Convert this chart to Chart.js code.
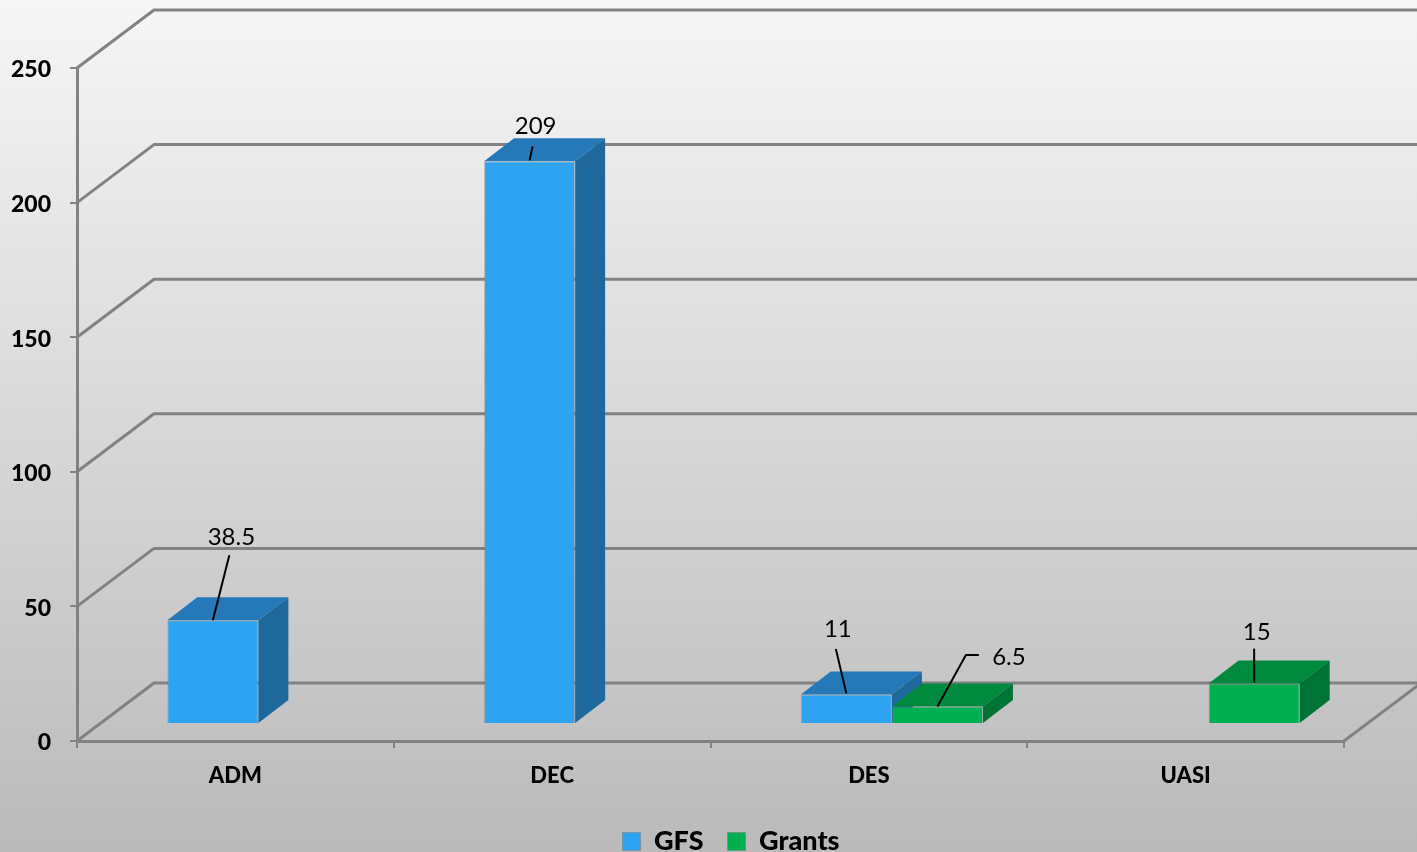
<!DOCTYPE html>
<html>
<head>
<meta charset="utf-8">
<title>GFS and Grants</title>
<script src="https://cdn.jsdelivr.net/npm/chart.js@4/dist/chart.umd.min.js"></script>
<style>
    html, body { margin: 0; padding: 0; overflow: hidden; background: #bbb; }
    canvas { display: block; }
</style>
</head>
<body>
<canvas id="chart" width="1417" height="852"></canvas>
<script>
const categories = ['ADM', 'DEC', 'DES', 'UASI'];
const gfsValues = [38.5, 209, 11, null];
const grantsValues = [null, null, 6.5, 15];
const yTicks = [0, 50, 100, 150, 200, 250];

// the look of the 3d box, in pixels
const wallDepth = { x: 77, y: -58 };
const barShift = { x: 23, y: -17 };
const barDepth = { x: 30, y: -23 };
const gridColor = '#828282';

// leader lines from the bar top to its label: [dx, dy] from the top centre of the front face
const gfsLeaders = [
    { label: [18.5, -83], line: [[16.5, -65], [0, 0]] },
    { label: [6, -35], line: [[3, -15], [0, -1]] },
    { label: [-8.5, -65], line: [[-10.5, -45.5], [0, -1]] },
    null
];
const grantsLeaders = [
    null,
    null,
    { label: [71.5, -49], line: [[41.5, -51.5], [28.5, -51.5], [0, 0]] },
    { label: [2.5, -51.5], line: [[0, -35], [0, -1]] }
];

const seriesStyle = [
    { front: '#2ea3f2', top: '#2579b8', side: '#1f689c', leaders: gfsLeaders },
    { front: '#00b050', top: '#008a3e', side: '#007435', leaders: grantsLeaders }
];

const polygon = (ctx, points, color) => {
    ctx.beginPath();
    points.forEach(([x, y], i) => (i ? ctx.lineTo(x, y) : ctx.moveTo(x, y)));
    ctx.closePath();
    ctx.fillStyle = color;
    ctx.fill();
};

const drawBoxFaces = (chart, index) => {
    const { ctx } = chart;
    const style = seriesStyle[index];
    chart.getDatasetMeta(index).data.forEach((bar, i) => {
        if (chart.data.datasets[index].data[i] == null) return;
        const l = bar.x - bar.width / 2;
        const r = bar.x + bar.width / 2;
        polygon(ctx, [[l, bar.y], [l + barDepth.x, bar.y + barDepth.y], [r + barDepth.x, bar.y + barDepth.y], [r, bar.y]], style.top);
        polygon(ctx, [[r, bar.y], [r + barDepth.x, bar.y + barDepth.y], [r + barDepth.x, bar.base + barDepth.y], [r, bar.base]], style.side);
    });
};

const chart3d = {
    id: 'chart3d',
    beforeDraw(chart) {
        const { ctx, width, height } = chart;
        const bg = ctx.createLinearGradient(0, 0, 0, height);
        bg.addColorStop(0, '#f6f6f6');
        bg.addColorStop(1, '#bababa');
        ctx.fillStyle = bg;
        ctx.fillRect(0, 0, width, height);
    },
    afterLayout(chart) {
        // the legend sits off centre, under the right part of the plot
        const legend = chart.legend;
        legend.left += 59;
        legend.right += 59;
        legend.top += 13;
        legend.bottom += 13;
    },
    beforeDatasetsDraw(chart) {
        const { ctx, scales, chartArea } = chart;
        const { left, right, bottom } = chartArea;
        ctx.save();
        ctx.strokeStyle = gridColor;
        ctx.lineWidth = 3;
        ctx.lineJoin = 'round';
        yTicks.forEach(v => {
            const y = scales.y.getPixelForValue(v);
            ctx.beginPath();
            ctx.moveTo(left, y);
            ctx.lineTo(left + wallDepth.x, y + wallDepth.y);
            ctx.lineTo(right + wallDepth.x, y + wallDepth.y);
            ctx.stroke();
        });
        ctx.beginPath();
        ctx.moveTo(right, bottom);
        ctx.lineTo(right + wallDepth.x, bottom + wallDepth.y);
        ctx.stroke();
        ctx.restore();
    },
    // chart.js paints the last dataset first, but Grants has to lie over the side of GFS
    beforeDatasetDraw(chart, args) {
        if (args.index === 1) return false;
        chart.ctx.save();
        chart.ctx.translate(barShift.x, barShift.y);
        drawBoxFaces(chart, 0);
    },
    afterDatasetDraw(chart) {
        const { ctx } = chart;
        drawBoxFaces(chart, 1);
        chart.getDatasetMeta(1).data.forEach((bar, i) => {
            if (grantsValues[i] != null) bar.draw(ctx);
        });
        ctx.restore();
    },
    afterDatasetsDraw(chart) {
        const { ctx } = chart;
        ctx.save();
        ctx.strokeStyle = '#000';
        ctx.fillStyle = '#000';
        ctx.lineWidth = 2;
        ctx.font = '24px Lato';
        ctx.textAlign = 'center';
        ctx.textBaseline = 'middle';
        chart.data.datasets.forEach((ds, d) => {
            chart.getDatasetMeta(d).data.forEach((bar, i) => {
                const leader = seriesStyle[d].leaders[i];
                if (ds.data[i] == null || !leader) return;
                const x = bar.x + barShift.x;
                const y = bar.y + barShift.y;
                ctx.beginPath();
                leader.line.forEach(([dx, dy], n) => (n ? ctx.lineTo(x + dx, y + dy) : ctx.moveTo(x + dx, y + dy)));
                ctx.stroke();
                ctx.fillText(String(ds.data[i]), x + leader.label[0], y + leader.label[1]);
            });
        });
        ctx.restore();
    }
};

new Chart(document.getElementById('chart'), {
    type: 'bar',
    data: {
        labels: categories,
        datasets: [
            { label: 'GFS', data: gfsValues, backgroundColor: seriesStyle[0].front, borderColor: 'rgba(120,120,120,0.45)', borderWidth: 1, clip: false },
            { label: 'Grants', data: grantsValues, backgroundColor: seriesStyle[1].front, borderColor: 'rgba(120,120,120,0.45)', borderWidth: 1, clip: false }
        ]
    },
    options: {
        responsive: false,
        devicePixelRatio: 1,
        animation: false,
        datasets: { bar: { categoryPercentage: 0.575, barPercentage: 1 } },
        layout: { padding: { top: 68, right: 73, left: 0, bottom: 0 } },
        plugins: {
            tooltip: { enabled: false },
            legend: {
                position: 'bottom',
                labels: {
                    color: '#000',
                    font: { family: 'Lato', size: 27, weight: '900' },
                    boxWidth: 18,
                    boxHeight: 18,
                    padding: 24
                }
            }
        },
        scales: {
            x: {
                afterFit: (scale) => { scale.height = 50; },
                border: { color: gridColor, width: 3 },
                grid: { drawOnChartArea: false, color: gridColor, lineWidth: 2, tickLength: 7 },
                ticks: { color: '#000', font: { family: 'Lato', size: 22, weight: '900' }, padding: 15, maxRotation: 0 }
            },
            y: {
                min: 0,
                max: 250,
                afterFit: (scale) => { scale.width = 77; },
                border: { color: gridColor, width: 3 },
                grid: { drawOnChartArea: false, color: gridColor, lineWidth: 2, tickLength: 7 },
                ticks: { stepSize: 50, labelOffset: 2, color: '#000', font: { family: 'Lato', size: 23, weight: '900' }, padding: 19 }
            }
        }
    },
    plugins: [chart3d]
});
</script>
</body>
</html>
